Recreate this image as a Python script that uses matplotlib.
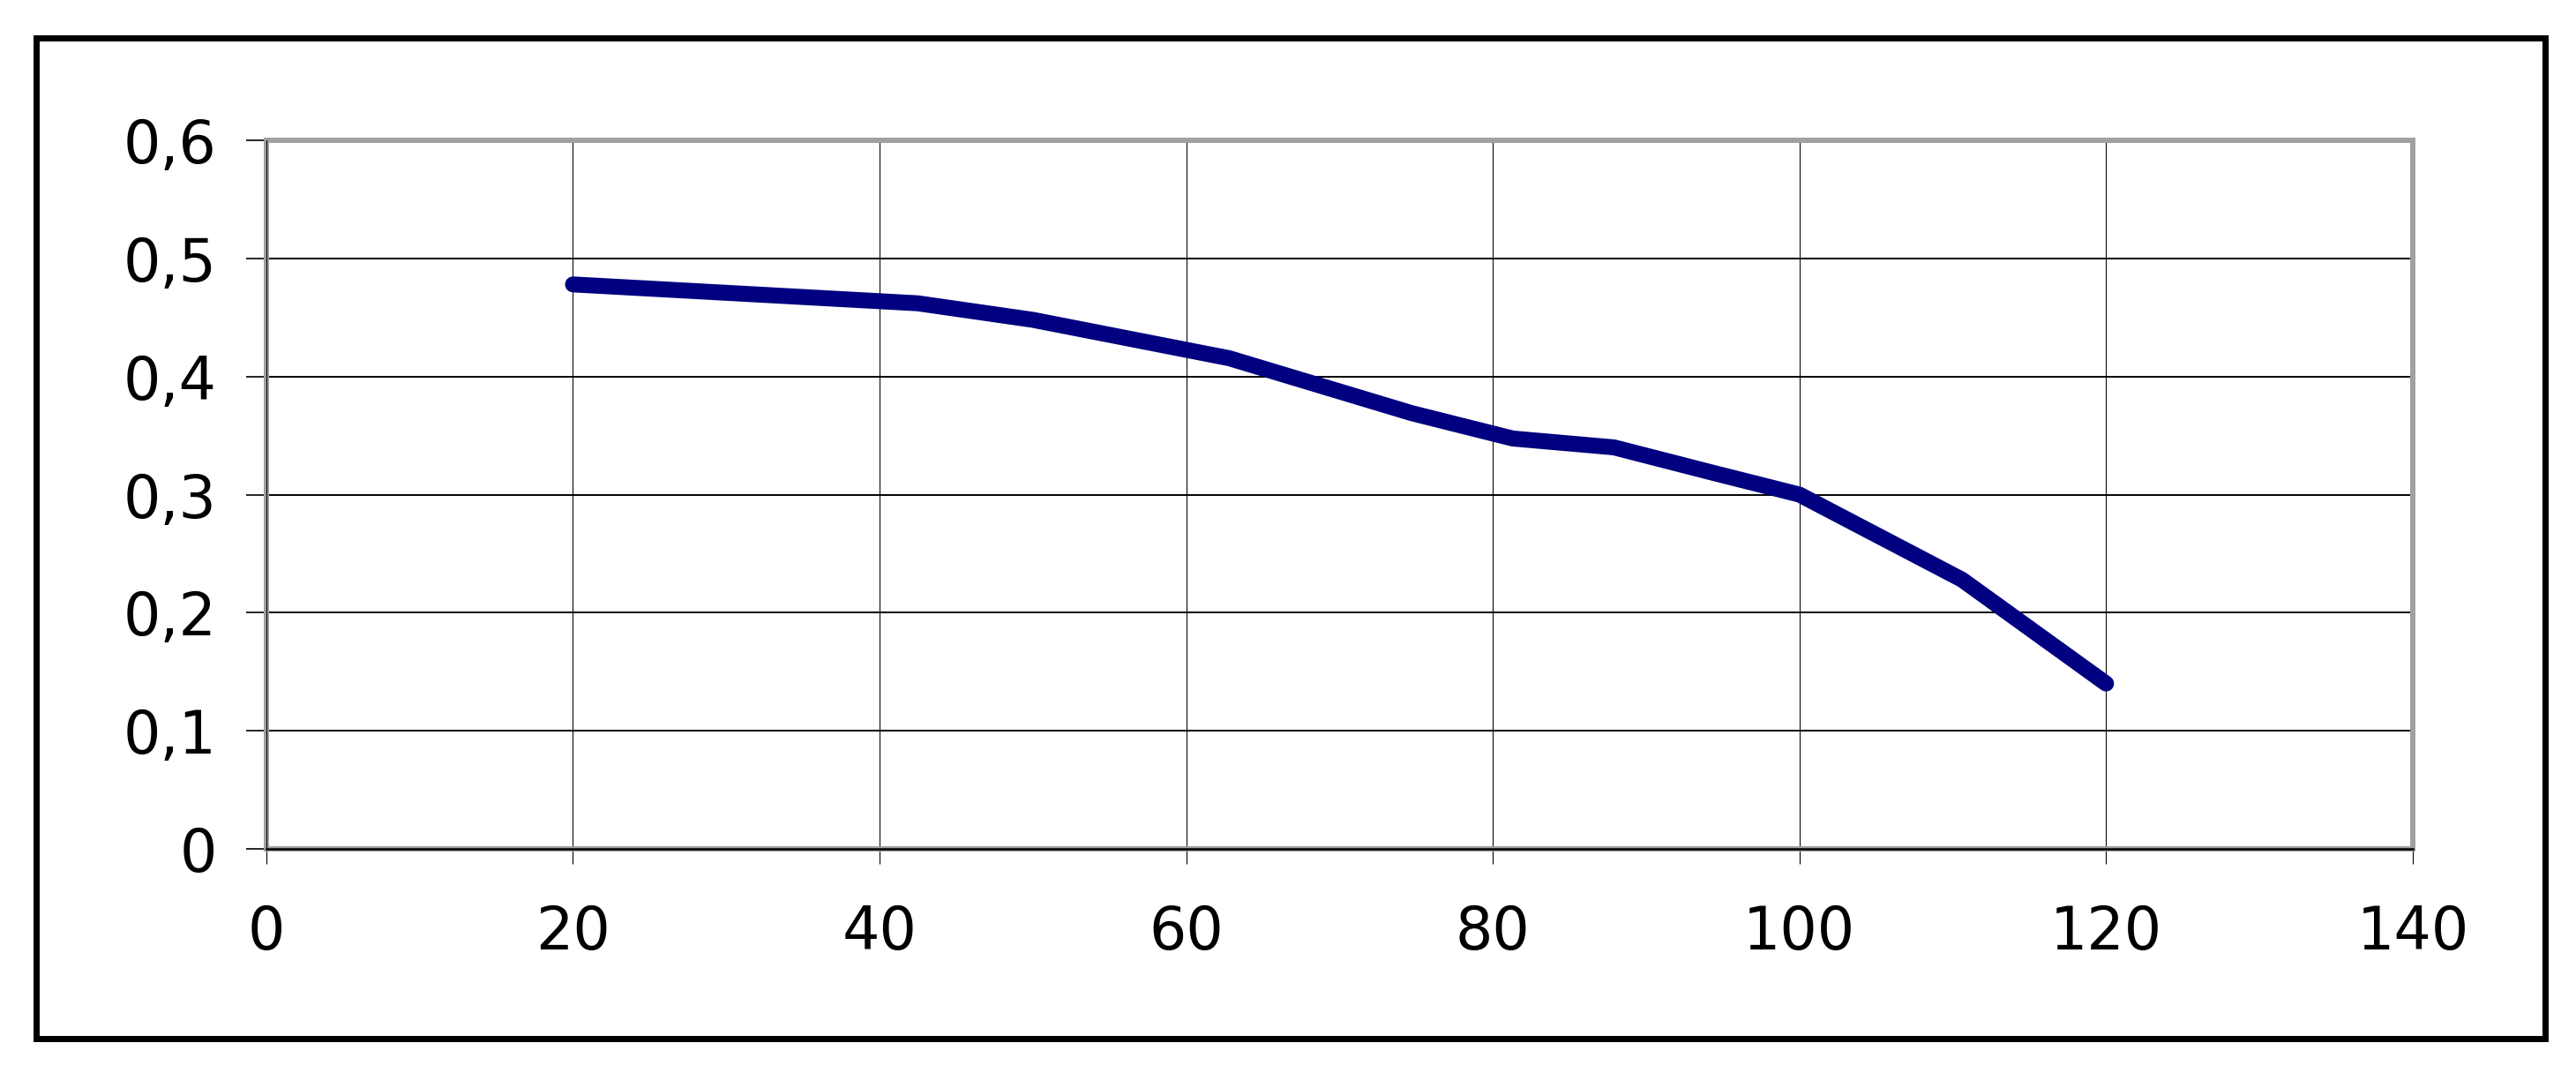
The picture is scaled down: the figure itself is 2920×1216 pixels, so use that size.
import matplotlib
matplotlib.use("Agg")
import matplotlib.pyplot as plt
from matplotlib.patches import Rectangle
from matplotlib.ticker import FuncFormatter

# values
x_vals = [20, 42.5, 50, 62.8, 74.7, 81.3, 87.9, 94.2, 100, 110.6, 120]
y_vals = [0.478, 0.462, 0.448, 0.4155, 0.369, 0.3475, 0.340, 0.319, 0.300, 0.228, 0.140]
x_ticks = [0, 20, 40, 60, 80, 100, 120, 140]
y_ticks = [0, 0.1, 0.2, 0.3, 0.4, 0.5, 0.6]

plt.rcParams['font.family'] = ['DejaVu Sans']

fig = plt.figure(figsize=(29.2, 12.16), dpi=100)
ax = fig.add_axes([0.1034, 0.2089, 0.8332, 0.6603])

ax.plot(x_vals, y_vals, color='#000080', linewidth=13,
        solid_capstyle='round', solid_joinstyle='round', zorder=5)

ax.set_xlim(0, 140)
ax.set_ylim(0, 0.6)
ax.set_xticks(x_ticks)
ax.set_yticks(y_ticks)
ax.yaxis.set_major_formatter(FuncFormatter(lambda v, p: ('%g' % v).replace('.', ',')))

# grid: horizontal lines heavier than vertical ones
ax.grid(True, axis='y', color='black', linewidth=1.4)
ax.grid(True, axis='x', color='black', linewidth=0.75)
ax.set_axisbelow(True)

# grey plot-area border, black axis lines on top of it
for s in ax.spines.values():
    s.set_color('#a0a0a0')
    s.set_linewidth(4.3)
ax.axhline(0, color='black', linewidth=1.8, zorder=3, clip_on=False)
ax.axvline(0, color='black', linewidth=0.75, zorder=3, clip_on=False)

ax.tick_params(axis='x', direction='out', length=12.5, width=0.8, pad=32,
               labelsize=48, colors='black')
ax.tick_params(axis='y', direction='out', length=16.5, width=1.2, pad=24,
               labelsize=48, colors='black')

# outer chart frame
fig.patches.append(Rectangle((0.014, 0.032), 0.974, 0.9326, transform=fig.transFigure,
                             fill=False, edgecolor='black', linewidth=5))

fig.savefig('out.png', dpi=100)
